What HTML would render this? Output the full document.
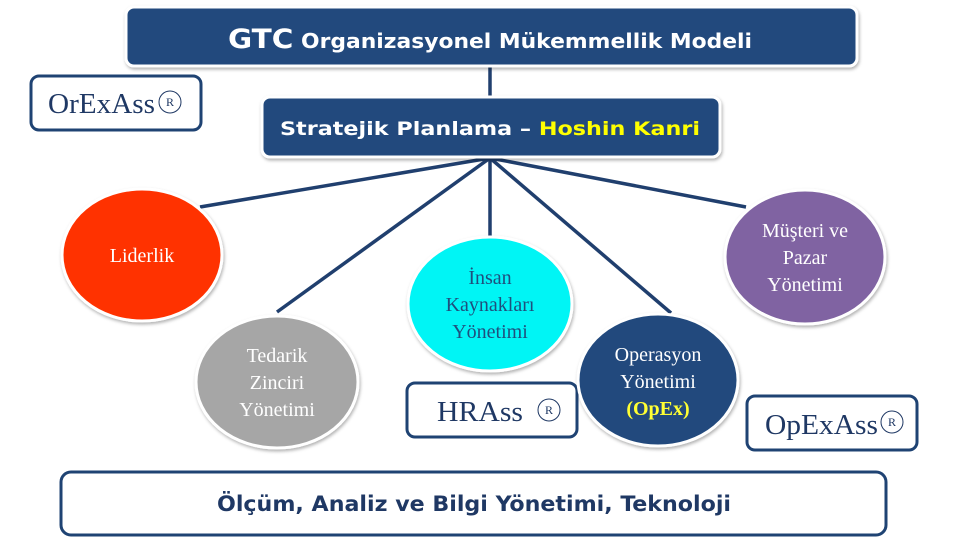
<!DOCTYPE html>
<html><head><meta charset="utf-8"><style>
html,body{margin:0;padding:0;background:#fff;}
svg{display:block;}
</style></head><body>
<svg width="960" height="538" viewBox="0 0 960 538" xmlns="http://www.w3.org/2000/svg">
<defs>
<filter id="sh" x="-10%" y="-10%" width="120%" height="130%">
<feDropShadow dx="1" dy="2" stdDeviation="1.5" flood-color="#000" flood-opacity="0.3"/>
</filter>
</defs>
<g stroke="#203f6e" stroke-width="3.5" fill="none">
<line x1="490" y1="66" x2="490" y2="98"/>
<line x1="490" y1="158" x2="200" y2="207"/>
<line x1="490" y1="158" x2="277" y2="312"/>
<line x1="490" y1="158" x2="490" y2="236"/>
<line x1="490" y1="158" x2="671" y2="313"/>
<line x1="490" y1="158" x2="746" y2="207"/>
</g>
<rect x="126" y="7" width="731" height="59" rx="8" fill="#214a7d" stroke="#fff" stroke-width="3" filter="url(#sh)"/>
<text x="490" y="48" text-anchor="middle" fill="#fff" font-family="DejaVu Sans, sans-serif" font-weight="bold" textLength="524" lengthAdjust="spacingAndGlyphs"><tspan font-size="27">GTC</tspan><tspan font-size="20"> Organizasyonel Mükemmellik Modeli</tspan></text>
<rect x="262" y="97" width="458" height="60" rx="8" fill="#214a7d" stroke="#fff" stroke-width="3" filter="url(#sh)"/>
<text x="490" y="135" text-anchor="middle" font-family="DejaVu Sans, sans-serif" font-weight="bold" font-size="19" textLength="420" lengthAdjust="spacingAndGlyphs"><tspan fill="#fff">Stratejik Planlama – </tspan><tspan fill="#ffff00">Hoshin Kanri</tspan></text>
<g fill="#fff" stroke="#1f4373" stroke-width="3">
<rect x="31" y="76" width="170" height="54" rx="8"/>
<rect x="407" y="383" width="170" height="54" rx="8"/>
<rect x="747" y="396" width="170" height="54" rx="8"/>
<rect x="61" y="472" width="825" height="63" rx="10"/>
</g>
<g font-family="Liberation Serif, serif" fill="#1f3864" font-size="29">
<text x="48" y="113" textLength="107" lengthAdjust="spacingAndGlyphs">OrExAss</text>
<text x="437" y="421" textLength="86" lengthAdjust="spacingAndGlyphs">HRAss</text>
<text x="765" y="434" textLength="113" lengthAdjust="spacingAndGlyphs">OpExAss</text>
</g>
<g fill="none" stroke="#1f3864" stroke-width="1">
<circle cx="170" cy="102" r="11"/>
<circle cx="549" cy="410" r="11"/>
<circle cx="892" cy="422" r="11"/>
</g>
<g font-family="Liberation Serif, serif" fill="#1f3864" font-size="12" text-anchor="middle">
<text x="170" y="106">R</text>
<text x="549" y="414">R</text>
<text x="892" y="426">R</text>
</g>
<text x="474" y="511" text-anchor="middle" font-family="DejaVu Sans Condensed, DejaVu Sans, sans-serif" font-weight="bold" font-size="21" fill="#1f3864" textLength="514" lengthAdjust="spacingAndGlyphs">Ölçüm, Analiz ve Bilgi Yönetimi, Teknoloji</text>
<g stroke="#fff" stroke-width="3" filter="url(#sh)">
<ellipse cx="142" cy="255" rx="80" ry="66" fill="#ff3300"/>
<ellipse cx="277" cy="382" rx="81" ry="66" fill="#a6a6a6"/>
<ellipse cx="490" cy="304" rx="82" ry="67" fill="#00f5f5"/>
<ellipse cx="658" cy="380" rx="80" ry="66" fill="#214a7d"/>
<ellipse cx="805" cy="257" rx="80" ry="67" fill="#8064a2"/>
</g>
<g font-family="Liberation Serif, serif" font-size="20" text-anchor="middle" fill="#fff">
<text x="142" y="262">Liderlik</text>
<text x="277" y="362">Tedarik</text>
<text x="277" y="389">Zinciri</text>
<text x="277" y="416">Yönetimi</text>
<text x="490" y="284" fill="#1f4f7d">İnsan</text>
<text x="490" y="311" fill="#1f4f7d">Kaynakları</text>
<text x="490" y="338" fill="#1f4f7d">Yönetimi</text>
<text x="658" y="361">Operasyon</text>
<text x="658" y="388">Yönetimi</text>
<text x="658" y="415" fill="#ffff33" font-weight="bold">(OpEx)</text>
<text x="805" y="237">Müşteri ve</text>
<text x="805" y="264">Pazar</text>
<text x="805" y="291">Yönetimi</text>
</g>
</svg>
</body></html>
